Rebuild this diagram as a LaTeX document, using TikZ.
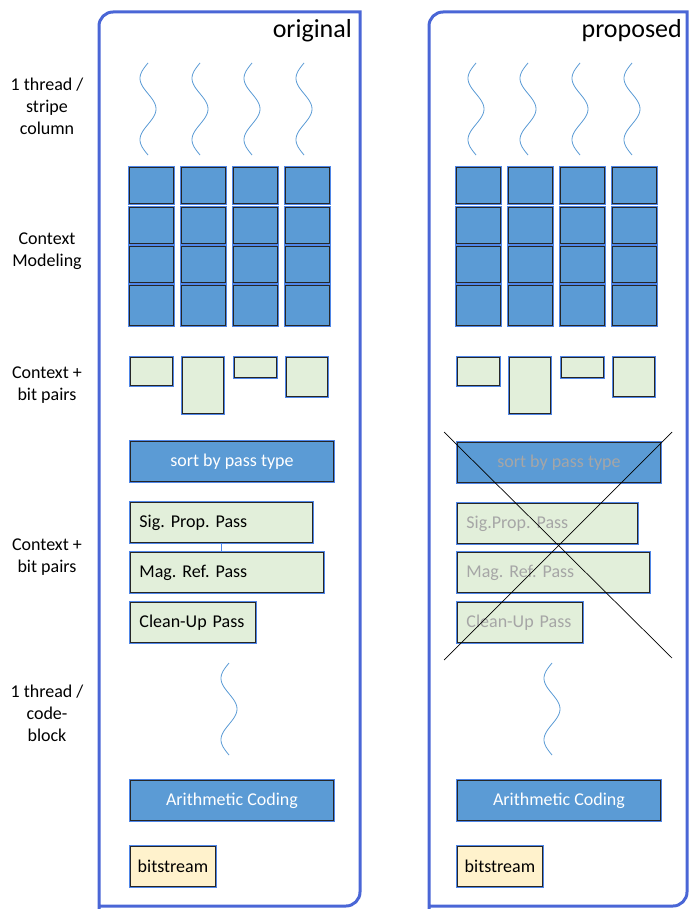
\documentclass[tikz,border=0pt]{standalone}
\usepackage{fontspec}
\setmainfont{Carlito}
\usetikzlibrary{calc}

\definecolor{cellblue}{HTML}{5B9BD5}
\definecolor{bitgreen}{HTML}{E2EFDA}
\definecolor{streamyellow}{HTML}{FFF2CC}
\definecolor{glow}{HTML}{4F86E8}
\definecolor{framecol}{HTML}{4A66D6}
\definecolor{fadetext}{HTML}{A6A6A6}

\frenchspacing

\begin{document}
\begin{tikzpicture}[x=1pt,y=-1pt,
    every node/.style={font=\fontsize{18}{22}\selectfont},
    frame/.style={draw=framecol, line width=3pt, sharp corners, line join=miter},
    wave/.style={draw=cellblue, line width=0.8pt},
    box/.style={draw=black!85, line width=0.9pt, preaction={draw=glow, line width=3.5pt},
        anchor=north west, inner sep=0pt},
    cell/.style={box, fill=cellblue, minimum width=44pt, minimum height=#1},
    bits/.style={box, fill=bitgreen, minimum width=42pt, minimum height=#1},
    bar/.style={box, fill=cellblue, text=white, minimum width=203pt, minimum height=40pt},
    pass/.style={box, fill=bitgreen, inner xsep=9pt, text width=#1-18pt, align=left, minimum height=40pt},
    stream/.style={box, fill=streamyellow, minimum width=85pt, minimum height=40pt},
    label/.style={align=center},
    title/.style={font=\fontsize{26}{30}\selectfont, anchor=east, inner sep=0pt}]

    \useasboundingbox (0,0) rectangle (689,909);

    % panels
    \coordinate (Ltop) at (360,12);
    \coordinate (Rtop) at (687,12);
    \draw[frame] (99,909) -- (99,26) .. controls (99,18.3) and (105.3,12) .. (113,12) -- (Ltop)
        -- (360,892) .. controls (360,899.7) and (353.7,906) .. (346,906) -- (99,906);
    \draw[frame] (429,909) -- (429,26) .. controls (429,18.3) and (435.3,12) .. (443,12) -- (Rtop)
        -- (687,892) .. controls (687,899.7) and (680.7,906) .. (673,906) -- (429,906);

    \node[title] (torig) at (352,31) {original};
    \node[title] (tprop) at (682,31) {proposed};

    % row labels
    \node[label] (lab1) at (47,106) {1 thread /\\stripe\\column};
    \node[label] (lab2) at (47,251.5) {Context\\Modeling};
    \node[label] (lab3) at (47,385.5) {Context +\\bit pairs};
    \node[label] (lab4) at (47,557.5) {Context +\\bit pairs};
    \node[label] (lab5) at (47,713) {1 thread /\\code-\\block};

    % threads
    \foreach \sx in {148,200,252,304,476,528,580,632}
        \draw[wave] plot[variable=\t, domain=0:92, samples=60, smooth] ({\sx-8*sin(\t*5.87)}, {63+\t});
    \foreach \sx in {229,552}
        \draw[wave] plot[variable=\t, domain=0:92, samples=60, smooth] ({\sx-8*sin(\t*5.87)}, {663+\t});

    % context modeling grid
    \foreach \p/\dx in {L/0,R/327}{
        \foreach \c/\cx in {1/129,2/181,3/233,4/285}{
            \node[cell=36pt] (\p c1\c) at (\cx+\dx,167) {};
            \node[cell=36pt] (\p c2\c) at (\cx+\dx,207) {};
            \node[cell=36pt] (\p c3\c) at (\cx+\dx,246) {};
            \node[cell=40pt] (\p c4\c) at (\cx+\dx,285) {};
        }
        % context + bit pairs
        \node[bits=28pt] (\p b1) at (130+\dx,357) {};
        \node[bits=56pt, minimum width=41pt] (\p b2) at (182+\dx,357) {};
        \node[bits=20pt] (\p b3) at (234+\dx,357) {};
        \node[bits=39pt, minimum width=41pt] (\p b4) at (286+\dx,357) {};
        % coding
        \node[bar] (\p arith) at (130+\dx,780) {Arithmetic Coding};
        \node[stream] (\p bits) at (130+\dx,846) {bitstream};
    }

    % original passes
    \node[bar] (Lsort) at (130,441) {sort by pass type};
    \node[pass=182pt] (Lsig) at (130,502) {Sig. Prop. Pass};
    \node[pass=193pt] (Lmag) at (130,552) {Mag. Ref. Pass};
    \node[pass=125pt] (Lclean) at (130,602) {Clean-Up Pass};
    \draw[draw=glow, line width=1pt] (Lsig.south) -- (Lsig.south |- Lmag.north);

    % proposed passes, crossed out
    \node[bar, text=fadetext] (Rsort) at (457,442) {sort by pass type};
    \node[pass=180pt, text=fadetext] (Rsig) at (457,503) {Sig.Prop. Pass};
    \node[pass=192pt, text=fadetext] (Rmag) at (457,552) {Mag. Ref. Pass};
    \node[pass=125pt, text=fadetext] (Rclean) at (457,602) {Clean-Up Pass};

    \coordinate (X1) at (444,432);
    \coordinate (X2) at (672,658);
    \coordinate (X3) at (672,432);
    \coordinate (X4) at (444,660);
    \draw[line width=0.7pt] (X1) -- (X2);
    \draw[line width=0.7pt] (X3) -- (X4);
\end{tikzpicture}
\end{document}
